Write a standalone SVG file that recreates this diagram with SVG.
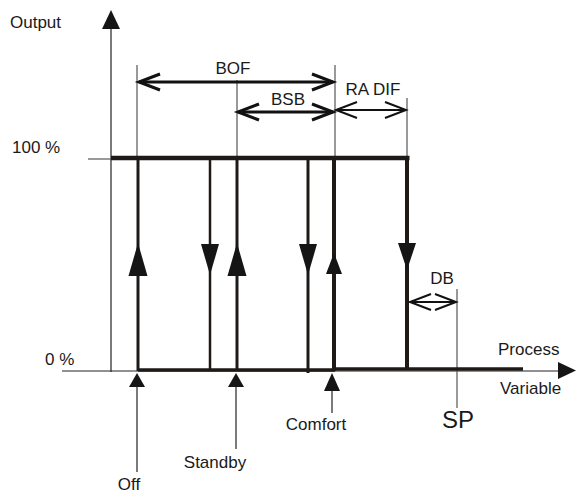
<svg xmlns="http://www.w3.org/2000/svg" xmlns:xlink="http://www.w3.org/1999/xlink" width="576" height="495" viewBox="0 0 576 495">
<style>
text{font-family:"Liberation Sans",Arial,sans-serif;font-size:17px;fill:#1a1a1a}
.thin{stroke:#222;stroke-width:1.2;fill:none}
.ext{stroke:#555;stroke-width:1.2;fill:none}
.thick{stroke:#1e1a17;fill:none}
.dim{stroke:#111;stroke-width:3;fill:none}
.dim2{stroke:#111;stroke-width:2;fill:none}
.tri{fill:#151515}
</style>
<defs>
<marker id="chev" markerUnits="userSpaceOnUse" markerWidth="30" markerHeight="24" viewBox="-24 -12 30 24" refX="0" refY="0" orient="auto-start-reverse">
<path d="M-21,-8 L0,0 L-21,8" fill="none" stroke="#111" stroke-width="3"/>
</marker>
<marker id="chev2" markerUnits="userSpaceOnUse" markerWidth="30" markerHeight="24" viewBox="-24 -12 30 24" refX="0" refY="0" orient="auto-start-reverse">
<path d="M-21,-8 L0,0 L-21,8" fill="none" stroke="#111" stroke-width="2"/>
</marker>
</defs>
<g id="axes">
<line class="thin" x1="111" y1="26" x2="111" y2="372"/>
<polygon class="tri" points="111,10 102,29 120,29"/>
<line class="ext" x1="88" y1="159" x2="111" y2="159"/>
<line class="thin" x1="62" y1="371" x2="560" y2="371"/>
<polygon class="tri" points="576,370.5 558,362 558,379"/>
<text x="10" y="28">Output</text>
<text x="12" y="153">100 %</text>
<text x="45" y="365">0 %</text>
<text x="498" y="355">Process</text>
<text x="500" y="394">Variable</text>
</g>
<g id="extensions">
<line class="ext" x1="137" y1="65" x2="137" y2="158"/>
<line class="ext" x1="237" y1="80" x2="237" y2="158"/>
<line class="ext" x1="335" y1="65" x2="335" y2="158"/>
<line class="ext" x1="407" y1="98" x2="407" y2="158"/>
<line class="ext" x1="457" y1="289" x2="457" y2="408"/>
</g>
<g id="curve">
<line class="thick" stroke-width="4.5" x1="111" y1="158" x2="409.5" y2="158"/>
<line class="thick" stroke-width="3.5" x1="138" y1="370" x2="335" y2="370"/>
<line class="thick" stroke-width="3.5" x1="333" y1="369" x2="523" y2="369"/>
<line class="thick" stroke-width="3" x1="138" y1="158" x2="138" y2="371"/>
<line class="thick" stroke-width="2.5" x1="210" y1="158" x2="210" y2="371"/>
<line class="thick" stroke-width="3" x1="237" y1="158" x2="237" y2="371"/>
<line class="thick" stroke-width="3" x1="308" y1="158" x2="308" y2="373"/>
<line class="thick" stroke-width="4" x1="334" y1="158" x2="334" y2="371"/>
<line class="thick" stroke-width="4" x1="407" y1="158" x2="407" y2="369"/>
<polygon class="tri" points="138,243 128.5,276 147.5,276"/>
<polygon class="tri" points="210,275 201,244 219,244"/>
<polygon class="tri" points="237,243 227.5,276 246.5,276"/>
<polygon class="tri" points="308,275 299,244 317,244"/>
<polygon class="tri" points="334,253 326,274 342,274"/>
<polygon class="tri" points="407,270 398,243 416,243"/>
</g>
<g id="dimensions">
<line class="dim" x1="139" y1="82" x2="333" y2="82" marker-start="url(#chev)" marker-end="url(#chev)"/>
<text x="233" y="74" text-anchor="middle">BOF</text>
<line class="dim" x1="238" y1="112" x2="333" y2="112" marker-start="url(#chev)" marker-end="url(#chev)"/>
<text x="288" y="105" text-anchor="middle">BSB</text>
<line class="dim2" x1="336" y1="110" x2="406" y2="110" marker-start="url(#chev2)" marker-end="url(#chev2)"/>
<text x="373" y="95" text-anchor="middle">RA DIF</text>
<line class="dim2" x1="410" y1="302" x2="456" y2="302" marker-start="url(#chev2)" marker-end="url(#chev2)"/>
<text x="442" y="284" text-anchor="middle">DB</text>
<text x="458" y="428" text-anchor="middle" style="font-size:24px">SP</text>
</g>
<g id="off">
<line class="thin" x1="137" y1="385" x2="137" y2="472"/>
<polygon class="tri" points="137,373 129,387 145,387"/>
<text x="129" y="490" text-anchor="middle">Off</text>
</g>
<g id="standby">
<line class="thin" x1="236" y1="385" x2="236" y2="449"/>
<polygon class="tri" points="236,373 228,387 244,387"/>
<text x="215" y="468" text-anchor="middle">Standby</text>
</g>
<g id="comfort">
<line class="thin" x1="332" y1="388" x2="332" y2="413"/>
<polygon class="tri" points="332,373 324,391 340,391"/>
<text x="316" y="430" text-anchor="middle">Comfort</text>
</g>
</svg>
